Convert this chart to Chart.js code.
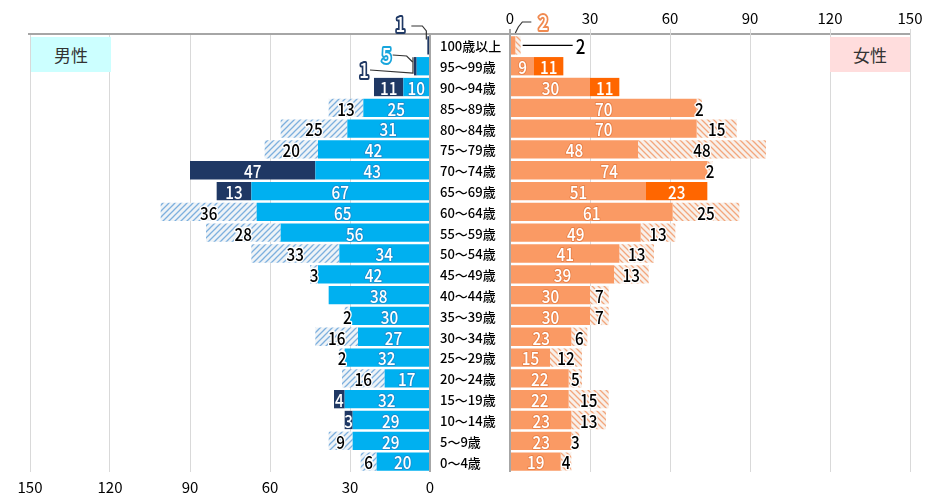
<!DOCTYPE html>
<html>
<head>
<meta charset="utf-8">
<script src="https://cdn.jsdelivr.net/npm/chart.js@4/dist/chart.umd.min.js"></script>
<style>
  body{margin:0;background:#fff;}
  #wrap{position:relative;width:939px;height:501px;overflow:hidden;}
  #wrap canvas{position:absolute;left:0;top:0;}
  .tag{position:absolute;top:37px;width:80px;height:35px;line-height:35px;text-align:center;
       font-family:'Noto Sans CJK JP',sans-serif;font-size:17px;color:#333;z-index:3;}
</style>
</head>
<body>
<div id="wrap">
  <canvas id="male" width="939" height="501"></canvas>
  <canvas id="female" width="939" height="501"></canvas>
  <div class="tag" style="left:31px;background:#ccffff;">男性</div>
  <div class="tag" style="left:830px;background:#ffdddd;">女性</div>
</div>
<script>
// ── DATA ──
const ages = ['100歳以上','95～99歳','90～94歳','85～89歳','80～84歳','75～79歳','70～74歳',
  '65～69歳','60～64歳','55～59歳','50～54歳','45～49歳','40～44歳','35～39歳','30～34歳',
  '25～29歳','20～24歳','15～19歳','10～14歳','5～9歳','0～4歳'];
const ticksVals = [0,30,60,90,120,150];

const maleMain  = [0,5,10,25,31,42,43,67,65,56,34,42,38,30,27,32,17,32,29,29,20];
const maleDark  = [1,1,11,0,0,0,47,13,0,0,0,0,0,0,0,0,0,4,3,0,0];
const maleHatch = [0,0,0,13,25,20,0,0,36,28,33,3,0,2,16,2,16,0,0,9,6];

const femaleMain  = [2,9,30,70,70,48,74,51,61,49,41,39,30,30,23,15,22,22,23,23,19];
const femaleDark  = [0,11,11,0,0,0,0,23,0,0,0,0,0,0,0,0,0,0,0,0,0];
const femaleHatch = [2,0,0,2,15,48,2,0,25,13,13,13,7,7,6,12,5,15,13,3,4];

const C = {
  blue:'#00b0f0', navy:'#1f3864', salmon:'#fa9a64', orange:'#ff6600',
  grid:'#d9d9d9', axis:'#a6a6a6'
};
const FONT = "'Noto Sans CJK JP', sans-serif";

function hatch(bg, fg, dir){
  const c = document.createElement('canvas'); c.width = 6; c.height = 6;
  const g = c.getContext('2d');
  g.fillStyle = bg; g.fillRect(0,0,6,6);
  g.strokeStyle = fg; g.lineWidth = 1.3;
  g.beginPath();
  if(dir > 0){ g.moveTo(-1,7); g.lineTo(7,-1); g.moveTo(-1,1); g.lineTo(1,-1); g.moveTo(5,7); g.lineTo(7,5); }
  else { g.moveTo(-1,-1); g.lineTo(7,7); g.moveTo(5,-1); g.lineTo(7,1); g.moveTo(-1,5); g.lineTo(1,7); }
  g.stroke();
  return g.createPattern(c,'repeat');
}
const maleHatchFill = hatch('#eef3f7', '#7db0de', 1);
const femaleHatchFill = hatch('#f8f0ea', '#f3a67c', -1);

function txt(ctx, s, x, y, fill, stroke, lw, size){
  ctx.save();
  ctx.translate(x, y); ctx.scale(0.85, 1);
  ctx.font = '500 ' + (size||18) + 'px ' + FONT;
  ctx.textAlign = 'center'; ctx.textBaseline = 'middle';
  if(stroke){ ctx.lineJoin='round'; ctx.lineWidth = lw; ctx.strokeStyle = stroke; ctx.strokeText(s,0,1); }
  ctx.fillStyle = fill; ctx.fillText(s,0,1);
  ctx.restore();
}
function leader(ctx, pts, color){
  ctx.save(); ctx.strokeStyle = color||'#000'; ctx.lineWidth = 1.2;
  ctx.beginPath(); ctx.moveTo(pts[0][0],pts[0][1]);
  pts.slice(1).forEach(p=>ctx.lineTo(p[0],p[1])); ctx.stroke(); ctx.restore();
}

// label styles per dataset: [fill, stroke, lineWidth]
const maleStyles   = [['#fff','#1a8fd0',2], ['#fff',null,0], ['#000','#fff',3]];
const femaleStyles = [['#fff','#e8824a',2], ['#fff',null,0], ['#000','#fff',3]];

function barLabels(skip, styles){
  return {
    id:'barLabels',
    afterDatasetsDraw(chart){
      const ctx = chart.ctx;
      chart.data.datasets.forEach((ds,i)=>{
        chart.getDatasetMeta(i).data.forEach((el,j)=>{
          const v = ds.data[j];
          if(!v || skip.includes(j)) return;
          const st = styles[i];
          txt(ctx, String(v), (el.x+el.base)/2, el.y, st[0], st[1], st[2]);
        });
      });
    }
  };
}

const maleExtra = {
  id:'maleExtra',
  beforeDatasetsDraw(chart){
    const ctx = chart.ctx, a = chart.chartArea;
    ctx.save(); ctx.strokeStyle = C.axis; ctx.lineWidth = 2;
    ctx.beginPath(); ctx.moveTo(a.left-2, a.top-1); ctx.lineTo(910, a.top-1); ctx.stroke(); ctx.restore();
  },
  afterDatasetsDraw(chart){
    const ctx = chart.ctx;
    const d0 = chart.getDatasetMeta(1).data[0];
    const m1 = chart.getDatasetMeta(0).data[1];
    const d1 = chart.getDatasetMeta(1).data[1];
    // 100歳以上 : 1
    leader(ctx, [[d0.x-16, 26],[d0.x-5,26],[d0.x-1,31],[d0.x-1,d0.y-6]], '#333');
    txt(ctx, String(maleDark[0]), d0.x-27, 23, '#fff', C.navy, 4, 20);
    // 95～99歳 : 5
    leader(ctx, [[m1.x-24, 55],[m1.x-10,56],[m1.x-4,62]], '#333');
    txt(ctx, String(maleMain[1]), m1.x-30, 54, '#fff', '#17a5dc', 4, 20);
    // 95～99歳 : 1
    leader(ctx, [[d1.x-44, 70],[d1.x-1,73],[d1.x-1,d1.y-9]], '#333');
    txt(ctx, String(maleDark[1]), d1.x-50, 69, '#fff', C.navy, 4, 20);
  }
};

const femaleExtra = {
  id:'femaleExtra',
  afterDatasetsDraw(chart){
    const ctx = chart.ctx, a = chart.chartArea;
    ctx.save();
    ctx.font = '500 13px ' + FONT; ctx.fillStyle = '#000';
    ctx.textAlign = 'left'; ctx.textBaseline = 'middle';
    chart.getDatasetMeta(0).data.forEach((el,j)=>ctx.fillText(ages[j], a.left-70, el.y+1));
    ctx.restore();
    const m0 = chart.getDatasetMeta(0).data[0];
    const h0 = chart.getDatasetMeta(2).data[0];
    leader(ctx, [[m0.x+16, 22],[m0.x+7,22],[m0.x+3,27],[m0.x,33]], '#333');
    txt(ctx, String(femaleMain[0]), m0.x+28, 21, '#fff', '#f08a50', 4, 20);
    leader(ctx, [[h0.x+2, h0.y],[h0.x+52, h0.y]], '#000');
    txt(ctx, String(femaleHatch[0]), h0.x+60, h0.y, '#000', null, 0, 20);
  }
};

function gridColor(c){ return c.tick && c.tick.value === 0 ? C.axis : C.grid; }
function gridWidth(c){ return c.tick && c.tick.value === 0 ? 2 : 1; }

const bar = {categoryPercentage:1, barPercentage:0.88, borderWidth:0};

new Chart(document.getElementById('male'), {
  type:'bar',
  data:{labels:ages, datasets:[
    Object.assign({label:'男性', data:maleMain, backgroundColor:C.blue}, bar),
    Object.assign({label:'男性2', data:maleDark, backgroundColor:C.navy}, bar),
    Object.assign({label:'男性3', data:maleHatch, backgroundColor:maleHatchFill}, bar)
  ]},
  options:{
    indexAxis:'y', responsive:false, animation:false,
    layout:{padding:{left:30, right:509, top:35, bottom:0}},
    plugins:{legend:{display:false}, tooltip:{enabled:false}},
    scales:{
      x:{type:'linear', reverse:true, stacked:true, min:0, max:150, position:'bottom',
         afterBuildTicks:s=>{ s.ticks = ticksVals.map(v=>({value:v})); },
         afterFit:s=>{ s.height = 29; },
         ticks:{color:'#000', font:{family:FONT, size:15}, padding:6, maxRotation:0},
         grid:{color:gridColor, lineWidth:gridWidth, drawTicks:false},
         border:{display:false}},
      y:{stacked:true, display:false}
    }
  },
  plugins:[maleExtra, barLabels([0,1], maleStyles)]
});

new Chart(document.getElementById('female'), {
  type:'bar',
  data:{labels:ages, datasets:[
    Object.assign({label:'女性', data:femaleMain, backgroundColor:C.salmon}, bar),
    Object.assign({label:'女性2', data:femaleDark, backgroundColor:C.orange}, bar),
    Object.assign({label:'女性3', data:femaleHatch, backgroundColor:femaleHatchFill}, bar)
  ]},
  options:{
    indexAxis:'y', responsive:false, animation:false,
    layout:{padding:{left:510, right:29, top:0, bottom:29}},
    plugins:{legend:{display:false}, tooltip:{enabled:false}},
    scales:{
      x:{type:'linear', stacked:true, min:0, max:150, position:'top',
         afterBuildTicks:s=>{ s.ticks = ticksVals.map(v=>({value:v})); },
         afterFit:s=>{ s.height = 35; },
         ticks:{color:'#000', font:{family:FONT, size:15}, padding:2, maxRotation:0},
         grid:{color:gridColor, lineWidth:gridWidth, tickLength:6},
         border:{display:false}},
      y:{stacked:true, display:false}
    }
  },
  plugins:[femaleExtra, barLabels([0], femaleStyles)]
});
</script>
</body>
</html>
